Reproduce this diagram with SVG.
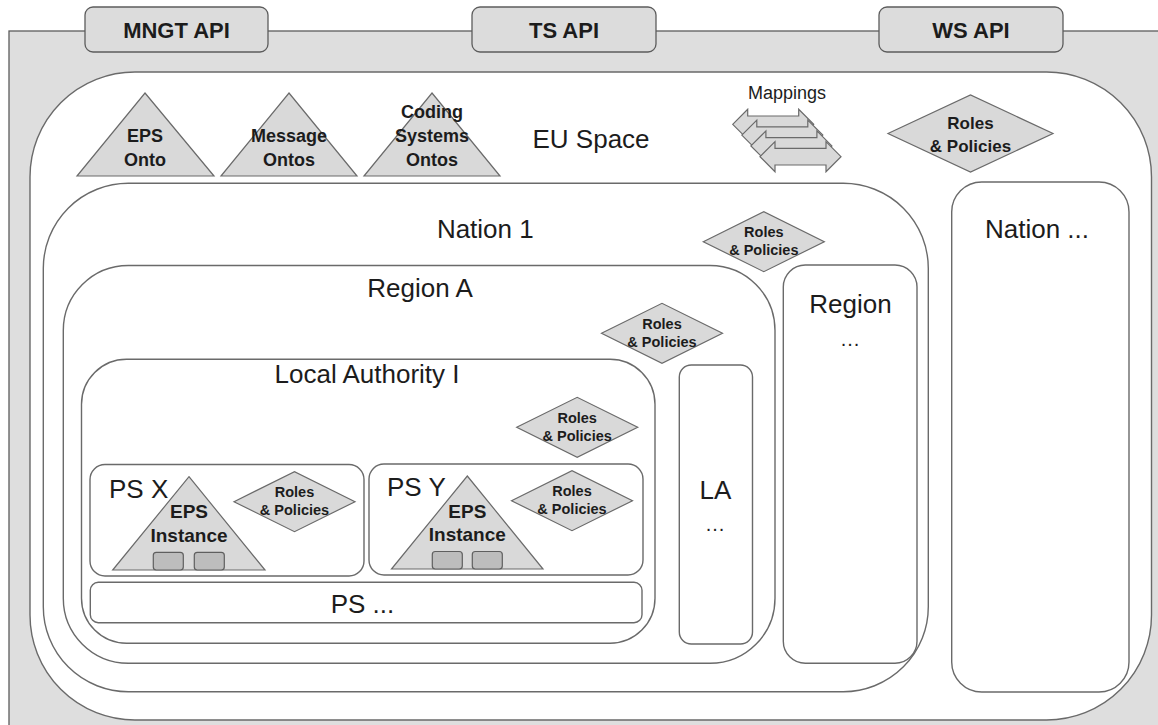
<svg xmlns="http://www.w3.org/2000/svg" width="1158" height="725" viewBox="0 0 1158 725">
  <defs>
    <style>
      .frame { fill: #dedede; stroke: #5c5c5c; stroke-width: 1.3; }
      .tab { fill: #dcdcdc; stroke: #5c5c5c; stroke-width: 1.3; }
      .box { fill: #ffffff; stroke: #6a6a6a; stroke-width: 1.4; }
      .shape { fill: #d9d9d9; stroke: #6a6a6a; stroke-width: 1.2; }
      .chip { fill: #bdbdbd; stroke: #5f5f5f; stroke-width: 1.2; }
      text { font-family: "Liberation Sans", Arial, sans-serif; fill: #1c1c1c; text-anchor: middle; }
      .title { font-size: 26px; }
      .api { font-size: 22px; font-weight: bold; }
      .onto { font-size: 18px; font-weight: bold; }
      .inst { font-size: 19px; font-weight: bold; }
      .rp { font-size: 14.5px; font-weight: bold; }
      .rp-big { font-size: 17px; font-weight: bold; }
      .map { font-size: 18px; }
      .dots { font-size: 20px; letter-spacing: 1px; }
      .start { text-anchor: start; }
    </style>
    <!-- double-headed arrow used by the Mappings stack -->
    <path id="dbl-arrow" d="M0,15 L15,0 L15,6.7 L66,6.7 L66,0 L81,15 L66,30 L66,23.3 L15,23.3 L15,30 Z"/>
    <!-- Roles & Policies diamond, 121 x 60, centred on origin -->
    <polygon id="rp-diamond" points="-60.5,0 0,-30 60.5,0 0,30"/>
  </defs>

  <!-- outer platform frame -->
  <rect class="frame" x="9" y="31" width="1170" height="720"/>

  <!-- API tabs -->
  <g id="mngt-api">
    <rect class="tab" x="85" y="7" width="183" height="45" rx="8"/>
    <text class="api" x="176.5" y="38">MNGT API</text>
  </g>
  <g id="ts-api">
    <rect class="tab" x="472" y="7" width="184" height="45" rx="8"/>
    <text class="api" x="564" y="38">TS API</text>
  </g>
  <g id="ws-api">
    <rect class="tab" x="879" y="7" width="184" height="45" rx="8"/>
    <text class="api" x="971" y="38">WS API</text>
  </g>

  <!-- EU space -->
  <g id="eu-space">
    <rect class="box" x="30" y="72" width="1121.5" height="648" rx="105"/>
    <text class="title start" x="532.5" y="148">EU Space</text>
  </g>

  <g id="eps-onto">
    <polygon class="shape" points="145,93 214,176 77,176"/>
    <text class="onto" x="145" y="141.7">EPS</text>
    <text class="onto" x="145" y="165.7">Onto</text>
  </g>
  <g id="message-ontos">
    <polygon class="shape" points="289,93 357,176 221,176"/>
    <text class="onto" x="289" y="141.7">Message</text>
    <text class="onto" x="289" y="165.7">Ontos</text>
  </g>
  <g id="coding-ontos">
    <polygon class="shape" points="432,93 500,176 364,176"/>
    <text class="onto" x="432" y="118">Coding</text>
    <text class="onto" x="432" y="141.7">Systems</text>
    <text class="onto" x="432" y="165.7">Ontos</text>
  </g>

  <g id="mappings">
    <text class="map" x="787" y="99">Mappings</text>
    <use href="#dbl-arrow" class="shape" x="732.7" y="109.3"/>
    <use href="#dbl-arrow" class="shape" x="741.8" y="120.1"/>
    <use href="#dbl-arrow" class="shape" x="750.9" y="130.9"/>
    <use href="#dbl-arrow" class="shape" x="760" y="141.7"/>
  </g>

  <g id="eu-roles">
    <polygon class="shape" points="888,133.5 970.5,95 1053,133.5 970.5,172"/>
    <text class="rp-big" x="970.5" y="129">Roles</text>
    <text class="rp-big" x="970.5" y="151.7">&amp; Policies</text>
  </g>

  <!-- Nation level -->
  <g id="nation-1">
    <rect class="box" x="43.3" y="183.3" width="885" height="508.4" rx="85"/>
    <text class="title" x="485.3" y="238.3">Nation 1</text>
  </g>
  <g id="nation-1-roles">
    <use href="#rp-diamond" class="shape" x="763.8" y="241.7"/>
    <text class="rp" x="763.8" y="237.3">Roles</text>
    <text class="rp" x="763.8" y="255">&amp; Policies</text>
  </g>
  <g id="nation-more">
    <rect class="box" x="951.7" y="182" width="177.3" height="510" rx="30"/>
    <text class="title" x="1037" y="238">Nation ...</text>
  </g>

  <!-- Region level -->
  <g id="region-a">
    <rect class="box" x="63.3" y="265.5" width="711.7" height="397.8" rx="65"/>
    <text class="title" x="420" y="297.3">Region A</text>
  </g>
  <g id="region-a-roles">
    <use href="#rp-diamond" class="shape" x="662" y="333.3"/>
    <text class="rp" x="662" y="329">Roles</text>
    <text class="rp" x="662" y="346.6">&amp; Policies</text>
  </g>
  <g id="region-more">
    <rect class="box" x="783.3" y="265" width="133.7" height="398.3" rx="22"/>
    <text class="title" x="850.5" y="312.7">Region</text>
    <text class="dots" x="850.5" y="345.5">...</text>
  </g>

  <!-- Local authority level -->
  <g id="local-authority-i">
    <rect class="box" x="81.5" y="359.3" width="573.5" height="284" rx="45"/>
    <text class="title" x="367" y="383.3">Local Authority I</text>
  </g>
  <g id="la-roles">
    <use href="#rp-diamond" class="shape" x="577.2" y="427.3"/>
    <text class="rp" x="577.2" y="423">Roles</text>
    <text class="rp" x="577.2" y="440.6">&amp; Policies</text>
  </g>
  <g id="la-more">
    <rect class="box" x="679.3" y="365" width="73.2" height="279" rx="12"/>
    <text class="title" x="715.5" y="499.3">LA</text>
    <text class="dots" x="715.5" y="531">...</text>
  </g>

  <!-- Points of service -->
  <g id="ps-x">
    <rect class="box" x="90" y="464.5" width="274" height="111.5" rx="15"/>
    <text class="title start" x="109" y="498">PS X</text>
    <polygon class="shape" points="189,476.7 265,570 112.7,570"/>
    <text class="inst" x="189" y="518">EPS</text>
    <text class="inst" x="189" y="541.7">Instance</text>
    <rect class="chip" x="153.3" y="552.3" width="30" height="17.7" rx="3"/>
    <rect class="chip" x="194.3" y="552.3" width="30" height="17.7" rx="3"/>
  </g>
  <g id="ps-x-roles">
    <use href="#rp-diamond" class="shape" x="294.5" y="501.7"/>
    <text class="rp" x="294.5" y="497.3">Roles</text>
    <text class="rp" x="294.5" y="515">&amp; Policies</text>
  </g>

  <g id="ps-y">
    <rect class="box" x="369" y="464" width="274" height="111" rx="15"/>
    <text class="title start" x="387" y="496">PS Y</text>
    <polygon class="shape" points="467.3,476 543,569 391.5,569"/>
    <text class="inst" x="467.3" y="517.5">EPS</text>
    <text class="inst" x="467.3" y="541">Instance</text>
    <rect class="chip" x="432.3" y="551.5" width="30" height="17.5" rx="3"/>
    <rect class="chip" x="472.3" y="551.5" width="30" height="17.5" rx="3"/>
  </g>
  <g id="ps-y-roles">
    <use href="#rp-diamond" class="shape" x="572" y="500.7"/>
    <text class="rp" x="572" y="496.3">Roles</text>
    <text class="rp" x="572" y="514">&amp; Policies</text>
  </g>

  <g id="ps-more">
    <rect class="box" x="90.3" y="582.3" width="551.7" height="40.4" rx="8"/>
    <text class="title" x="362.5" y="612.7">PS ...</text>
  </g>
</svg>
